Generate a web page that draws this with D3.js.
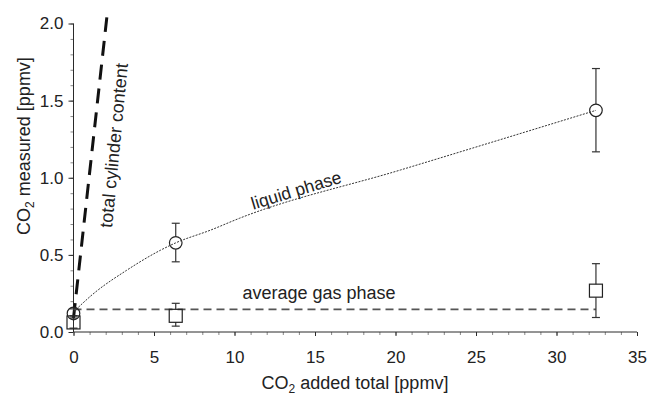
<!DOCTYPE html>
<html>
<head>
<meta charset="utf-8">
<script src="https://cdn.jsdelivr.net/npm/d3@7"></script>
<style>
  html, body { margin: 0; padding: 0; background: #fff; }
  svg { display: block; font-family: "Liberation Sans", Arial, sans-serif; }
  .axis text { font-size: 17px; fill: #222; }
</style>
</head>
<body>
<svg id="chart" width="650" height="397"></svg>
<script>
// Added CO2 (x) and measured CO2 (y), ppmv
const liquidX   = [0, 6.35, 32.45];
const liquidY   = [0.12, 0.578, 1.437];
const liquidLo  = [0.09, 0.455, 1.168];
const liquidHi  = [0.15, 0.705, 1.708];

const gasX      = [0, 6.35, 32.45];
const gasY      = [0.062, 0.105, 0.268];
const gasLo     = [0.025, 0.038, 0.094];
const gasHi     = [0.105, 0.186, 0.443];

// smooth fit through the liquid phase measurements
const fitX      = [0, 1.2, 3.3, 5.4, 6.35, 8.5, 10.3, 20.3, 32.45];
const fitY      = [0.13, 0.245, 0.40, 0.53, 0.578, 0.66, 0.737, 1.05, 1.437];

// average gas phase level
const gasAvgX   = [0, 32.45];
const gasAvgY   = [0.147, 0.147];

// total cylinder content
const cylX      = [0, 2.07];
const cylY      = [0.09, 2.04];

const xMajor    = [0, 5, 10, 15, 20, 25, 30, 35];
const xMinor    = d3.range(0, 35.01, 1);
const yMajor    = [0, 0.5, 1.0, 1.5, 2.0];
const yMinor    = d3.range(0, 2.001, 0.1);

const svg = d3.select("#chart");
const x = d3.scaleLinear().domain([0, 35]).range([73.5, 637]);
const y = d3.scaleLinear().domain([0, 2]).range([332, 23.5]);

const ink = "#2a2a2a";

// axes: minor ticks first, then major ticks with labels
const gx = svg.append("g").attr("class", "axis").attr("transform", `translate(0,${y(0)})`);
gx.append("g").call(d3.axisBottom(x).tickValues(xMinor).tickSize(3).tickFormat(""))
  .call(g => g.select(".domain").remove())
  .call(g => g.selectAll("line").attr("stroke", "#888"));
gx.append("g").call(d3.axisBottom(x).tickValues(xMajor).tickSize(4).tickPadding(15).tickFormat(d3.format("d")))
  .call(g => g.select(".domain").attr("stroke", ink).attr("d", `M${x(0)},0H${x(35)}`))
  .call(g => g.selectAll("line").attr("stroke", ink));

const gy = svg.append("g").attr("class", "axis").attr("transform", `translate(${x(0)},0)`);
gy.append("g").call(d3.axisLeft(y).tickValues(yMinor).tickSize(3).tickFormat(""))
  .call(g => g.select(".domain").remove())
  .call(g => g.selectAll("line").attr("stroke", "#888"));
gy.append("g").call(d3.axisLeft(y).tickValues(yMajor).tickSize(5).tickPadding(5).tickFormat(d3.format(".1f")))
  .call(g => g.select(".domain").attr("stroke", ink).attr("d", `M0,${y(0)}V${y(2)}`))
  .call(g => g.selectAll("line").attr("stroke", ink));

// axis titles
const xt = svg.append("text").attr("x", 355).attr("y", 389)
  .attr("text-anchor", "middle").attr("font-size", 18).attr("fill", "#222");
xt.append("tspan").text("CO");
xt.append("tspan").attr("font-size", 12).attr("dy", 3.5).text("2");
xt.append("tspan").attr("dy", -3.5).text(" added total [ppmv]");

const yt = svg.append("text").attr("transform", "translate(30,146) rotate(-90)")
  .attr("text-anchor", "middle").attr("font-size", 18).attr("fill", "#222");
yt.append("tspan").text("CO");
yt.append("tspan").attr("font-size", 12).attr("dy", 4).text("2");
yt.append("tspan").attr("dy", -4).text(" measured [ppmv]");

const line = d3.line().x(d => x(d[0])).y(d => y(d[1]));

// total cylinder content (thick dashed)
svg.append("path").datum(d3.zip(cylX, cylY)).attr("d", line)
  .attr("fill", "none").attr("stroke", "#111").attr("stroke-width", 3)
  .attr("stroke-dasharray", "15,9");

// average gas phase (dashed)
svg.append("path").datum(d3.zip(gasAvgX, gasAvgY)).attr("d", line)
  .attr("fill", "none").attr("stroke", "#555").attr("stroke-width", 1.6)
  .attr("stroke-dasharray", "8,5");

// error bars + markers
function errorBars(xs, ys, lo, hi, halfSize) {
  const g = svg.append("g").attr("stroke", "#333").attr("stroke-width", 1.2);
  xs.forEach((xv, i) => {
    const cx = x(xv);
    const top = y(hi[i]), bot = y(lo[i]), cy = y(ys[i]);
    if (top < cy - halfSize) g.append("line").attr("x1", cx).attr("x2", cx).attr("y1", top).attr("y2", cy - halfSize);
    if (bot > cy + halfSize) g.append("line").attr("x1", cx).attr("x2", cx).attr("y1", cy + halfSize).attr("y2", bot);
    g.append("line").attr("x1", cx - 4).attr("x2", cx + 4).attr("y1", top).attr("y2", top);
    g.append("line").attr("x1", cx - 4).attr("x2", cx + 4).attr("y1", bot).attr("y2", bot);
  });
}

const sq = 13;
errorBars(gasX, gasY, gasLo, gasHi, sq / 2);
svg.append("g").selectAll("rect").data(d3.zip(gasX, gasY)).join("rect")
  .attr("x", d => x(d[0]) - sq / 2).attr("y", d => y(d[1]) - sq / 2)
  .attr("width", sq).attr("height", sq)
  .attr("fill", "none").attr("stroke", "#222").attr("stroke-width", 1.2);

const r = 6.3;
errorBars(liquidX, liquidY, liquidLo, liquidHi, r);
svg.append("g").selectAll("circle").data(d3.zip(liquidX, liquidY)).join("circle")
  .attr("cx", d => x(d[0])).attr("cy", d => y(d[1])).attr("r", r)
  .attr("fill", "none").attr("stroke", "#222").attr("stroke-width", 1.2);

// liquid phase fit (fine dotted)
svg.append("path").datum(d3.zip(fitX, fitY))
  .attr("d", line.curve(d3.curveMonotoneX))
  .attr("fill", "none").attr("stroke", "#333").attr("stroke-width", 1)
  .attr("stroke-dasharray", "2,1.3");

// annotations
svg.append("text").attr("transform", "translate(298,196) rotate(-17)")
  .attr("text-anchor", "middle").attr("font-size", 17.5).attr("fill", "#222").text("liquid phase");
svg.append("text").attr("x", 319).attr("y", 299)
  .attr("text-anchor", "middle").attr("font-size", 18).attr("fill", "#222").text("average gas phase");
svg.append("text").attr("transform", "translate(120,146) rotate(-84.5)")
  .attr("text-anchor", "middle").attr("font-size", 18).attr("fill", "#222").text("total cylinder content");
</script>
</body>
</html>
